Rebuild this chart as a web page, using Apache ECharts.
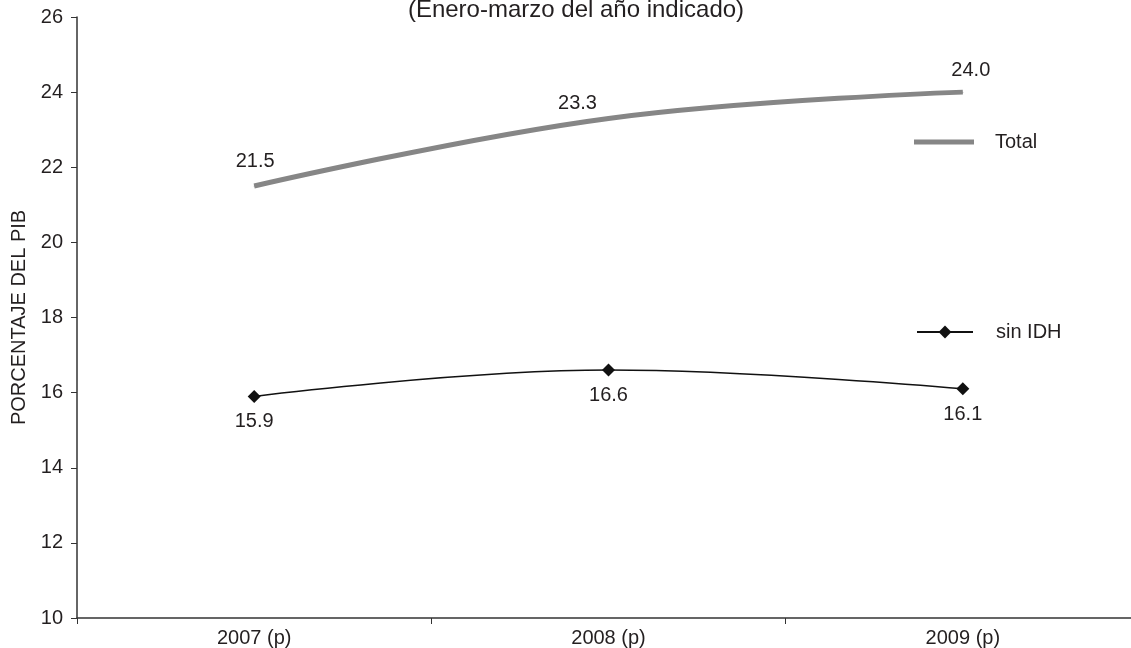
<!DOCTYPE html>
<html>
<head>
<meta charset="utf-8">
<script src="https://cdn.jsdelivr.net/npm/echarts@6/dist/echarts.min.js"></script>
<style>
html,body{margin:0;padding:0;background:#fff;}
#chart{width:1131px;height:648px;}
</style>
</head>
<body>
<div id="chart"></div>
<script>
var categories = ['2007 (p)', '2008 (p)', '2009 (p)'];
var totalValues = [21.5, 23.3, 24.0];
var sinIdhValues = [15.9, 16.6, 16.1];
var seriesNames = ['Total', 'sin IDH'];
var titleText = '(Enero-marzo del año indicado)';
var yAxisName = 'PORCENTAJE DEL PIB';

var FONT = 'Liberation Sans, Arial, sans-serif';
var TEXT = '#231f20';

// label offsets (layout only)
var totalLabelOffsets = [[1, 0], [-31, 10], [8, 3]];

var chart = echarts.init(document.getElementById('chart'));
chart.setOption({
  backgroundColor: '#fff',
  animation: false,
  textStyle: { fontFamily: FONT },
  title: {
    text: titleText, left: 576, top: -2, textAlign: 'center', padding: 0,
    textStyle: { fontSize: 24, fontWeight: 'normal', color: TEXT, fontFamily: FONT }
  },
  grid: { left: 77, top: 17, width: 1063, height: 601, containLabel: false, outerBoundsMode: 'none' },
  legend: [{
    data: [{ name: 'Total', icon: 'rect' }],
    left: 914, top: 132, itemWidth: 60, itemHeight: 5, padding: 0,
    textStyle: { fontSize: 20, color: TEXT, fontFamily: FONT, padding: [0, 0, 0, 16] }
  }, {
    data: ['sin IDH'],
    left: 916, top: 322, itemWidth: 56, itemHeight: 16, padding: 0,
    textStyle: { fontSize: 20, color: TEXT, fontFamily: FONT, padding: [0, 0, 0, 18] }
  }],
  xAxis: {
    type: 'category', data: categories, boundaryGap: true,
    axisLine: { lineStyle: { color: '#333', width: 1.5 } },
    axisTick: { show: true, length: 6, lineStyle: { color: '#333' } },
    axisLabel: { fontSize: 20, color: TEXT, margin: 10, fontFamily: FONT },
    splitLine: { show: false }
  },
  yAxis: {
    type: 'value', min: 10, max: 26, interval: 2,
    name: yAxisName, nameLocation: 'middle', nameGap: 47, nameRotate: 90,
    nameTextStyle: { fontSize: 20, color: TEXT, fontFamily: FONT },
    axisLine: { show: true, lineStyle: { color: '#333', width: 1.5 } },
    axisTick: { show: true, length: 6, lineStyle: { color: '#333' } },
    axisLabel: { fontSize: 20, color: TEXT, margin: 14, fontFamily: FONT },
    splitLine: { show: false }
  },
  series: [{
    name: seriesNames[0], type: 'line', smooth: 0.4,
    data: totalValues.map(function (v, i) {
      return { value: v, label: { offset: totalLabelOffsets[i] } };
    }),
    symbol: 'circle', symbolSize: 1,
    lineStyle: { color: '#868686', width: 5 },
    itemStyle: { color: '#868686' },
    label: {
      show: true, position: 'top', distance: 14, fontSize: 20, color: TEXT, fontFamily: FONT,
      formatter: function (p) { return p.value.toFixed(1); }
    }
  }, {
    name: seriesNames[1], type: 'line', smooth: 0.4,
    data: sinIdhValues,
    symbol: 'diamond', symbolSize: 13,
    lineStyle: { color: '#111', width: 1.5 },
    itemStyle: { color: '#111' },
    label: {
      show: true, position: 'bottom', distance: 9, fontSize: 20, color: TEXT, fontFamily: FONT,
      formatter: function (p) { return p.value.toFixed(1); }
    }
  }]
});
</script>
</body>
</html>
